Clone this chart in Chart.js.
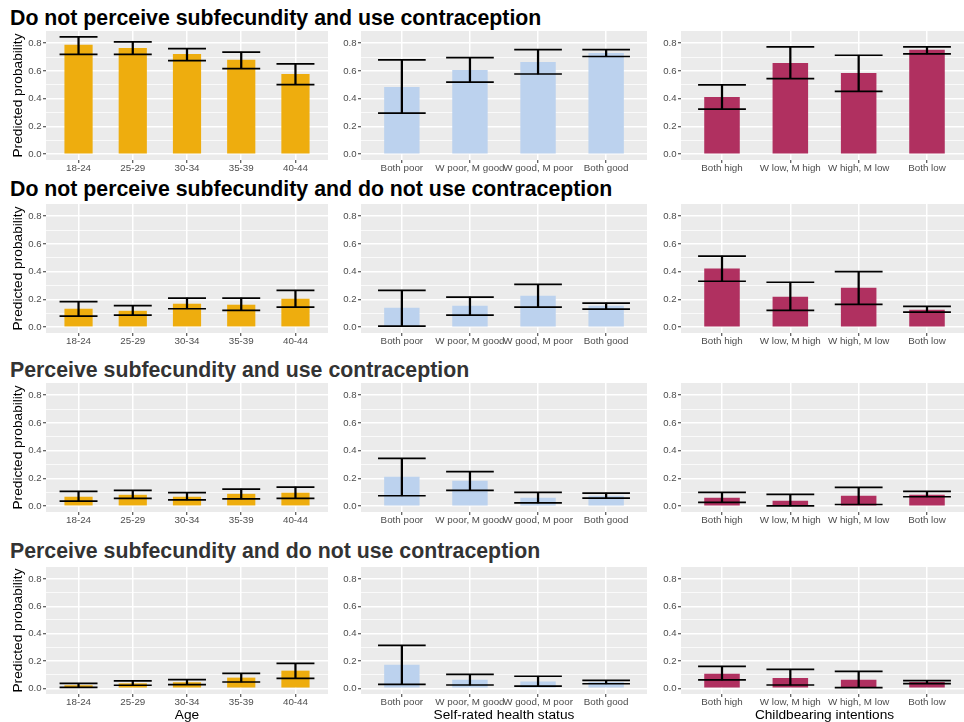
<!DOCTYPE html>
<html>
<head>
<meta charset="utf-8">
<script src="https://cdn.jsdelivr.net/npm/chart.js@4.4.0/dist/chart.umd.min.js"></script>
<style>
  html, body { margin: 0; padding: 0; background: #ffffff; overflow: hidden; }
  #fig { position: relative; width: 964px; height: 722px; overflow: hidden; }
  #fig canvas { position: absolute; }
  .rowtitle {
    position: absolute; left: 10px; white-space: nowrap;
    font: bold 21.3px 'Liberation Sans', Arial, sans-serif; line-height: 24px;
  }
</style>
</head>
<body>
<div id="fig"></div>
<script>
// ---- Categories and labels ----
const ageLabels = ['18-24', '25-29', '30-34', '35-39', '40-44'];
const healthLabels = ['Both poor', 'W poor, M good', 'W good, M poor', 'Both good'];
const intentLabels = ['Both high', 'W low, M high', 'W high, M low', 'Both low'];
const outcomeTitles = [
  'Do not perceive subfecundity and use contraception',
  'Do not perceive subfecundity and do not use contraception',
  'Perceive subfecundity and use contraception',
  'Perceive subfecundity and do not use contraception'
];
const xTitles = ['Age', 'Self-rated health status', 'Childbearing intentions'];
const probTicks = [0, 0.1, 0.2, 0.3, 0.4, 0.5, 0.6, 0.7, 0.8];

// ---- Predicted probabilities (one row per outcome) with lower / upper bounds ----
const ageEst = [
  [0.788, 0.766, 0.723, 0.680, 0.578],
  [0.133, 0.118, 0.169, 0.162, 0.205],
  [0.068, 0.082, 0.068, 0.089, 0.097],
  [0.022, 0.036, 0.044, 0.078, 0.129]
];
const ageLo = [
  [0.720, 0.720, 0.675, 0.617, 0.501],
  [0.080, 0.087, 0.133, 0.121, 0.145],
  [0.036, 0.056, 0.046, 0.053, 0.056],
  [0.007, 0.022, 0.027, 0.046, 0.073]
];
const ageHi = [
  [0.846, 0.810, 0.761, 0.735, 0.651],
  [0.184, 0.155, 0.210, 0.210, 0.266],
  [0.106, 0.114, 0.097, 0.123, 0.138],
  [0.036, 0.054, 0.063, 0.109, 0.182]
];

const healthEst = [
  [0.484, 0.607, 0.665, 0.730],
  [0.140, 0.155, 0.227, 0.155],
  [0.213, 0.184, 0.060, 0.075],
  [0.173, 0.063, 0.049, 0.045]
];
const healthLo = [
  [0.296, 0.520, 0.578, 0.704],
  [0.007, 0.087, 0.145, 0.130],
  [0.075, 0.114, 0.024, 0.058],
  [0.029, 0.024, 0.015, 0.033]
];
const healthHi = [
  [0.680, 0.696, 0.754, 0.754],
  [0.266, 0.217, 0.309, 0.174],
  [0.345, 0.249, 0.099, 0.094],
  [0.314, 0.102, 0.088, 0.058]
];

const intentEst = [
  [0.412, 0.658, 0.586, 0.752],
  [0.423, 0.220, 0.285, 0.126],
  [0.060, 0.039, 0.075, 0.082],
  [0.107, 0.075, 0.063, 0.046]
];
const intentLo = [
  [0.325, 0.545, 0.453, 0.723],
  [0.331, 0.121, 0.164, 0.109],
  [0.027, 0.002, 0.012, 0.068],
  [0.061, 0.024, 0.005, 0.034]
];
const intentHi = [
  [0.499, 0.773, 0.713, 0.773],
  [0.512, 0.324, 0.401, 0.150],
  [0.099, 0.085, 0.135, 0.106],
  [0.161, 0.139, 0.124, 0.056]
];

// ---- Layout / style ----
const FONT = "'Liberation Sans', Arial, sans-serif";
const panelLeft = [46, 361, 681];
const panelRight = [328, 647, 968];
const panelTop = [31, 204, 383, 567];
const panelHeight = [129, 129, 129, 127];
const titleTop = [6, 177, 357.6, 538.6];
const titleColor = ['#000000', '#000000', '#333333', '#333333'];
const TOP_PAD = 10;

const columns = [
  { labels: ageLabels, est: ageEst, lo: ageLo, hi: ageHi, color: '#EEAD0E' },
  { labels: healthLabels, est: healthEst, lo: healthLo, hi: healthHi, color: '#BCD2EE' },
  { labels: intentLabels, est: intentEst, lo: intentLo, hi: intentHi, color: '#B03060' }
];

const fig = document.getElementById('fig');

// grey panel background behind grid and bars
const panelBg = {
  id: 'panelBg',
  beforeDraw(chart) {
    const { ctx, chartArea: a } = chart;
    ctx.save();
    ctx.fillStyle = '#EBEBEB';
    ctx.fillRect(a.left, a.top, a.width, a.height);
    ctx.restore();
  }
};

outcomeTitles.forEach((t, r) => {
  const d = document.createElement('div');
  d.className = 'rowtitle';
  d.style.top = titleTop[r] + 'px';
  d.style.color = titleColor[r];
  d.textContent = t;
  fig.appendChild(d);
});

for (let r = 0; r < 4; r++) {
  for (let c = 0; c < 3; c++) {
    const col = columns[c];
    const n = col.labels.length;
    const yW = c === 0 ? panelLeft[0] : 40;
    const xH = r === 3 ? 722 - (panelTop[3] + panelHeight[3]) : 18;
    const pw = panelRight[c] - panelLeft[c];
    const w = yW + pw;
    const h = TOP_PAD + panelHeight[r] + xH;

    const cv = document.createElement('canvas');
    cv.width = w; cv.height = h;
    cv.style.width = w + 'px'; cv.style.height = h + 'px';
    cv.style.left = (panelLeft[c] - yW) + 'px';
    cv.style.top = (panelTop[r] - TOP_PAD) + 'px';
    fig.appendChild(cv);

    const spacing = pw / (n - 1 + 1.2);
    const capRadius = spacing * 0.35;
    const est = col.est[r], lo = col.lo[r], hi = col.hi[r];

    new Chart(cv, {
      type: 'bar',
      data: {
        datasets: [
          {
            // error-bar caps at the lower and upper bounds
            type: 'scatter',
            data: hi.map((v, i) => ({ x: i, y: v })).concat(lo.map((v, i) => ({ x: i, y: v }))),
            pointStyle: 'line',
            pointRadius: capRadius,
            pointHoverRadius: capRadius,
            pointBorderWidth: 1.7,
            pointBorderColor: '#000000',
            borderColor: '#000000',
            showLine: false,
            clip: false,
            order: 0
          },
          {
            // error-bar whiskers from lower to upper bound
            type: 'bar',
            data: lo.map((v, i) => ({ x: i, y: [v, hi[i]] })),
            backgroundColor: '#000000',
            barThickness: 1.6,
            grouped: false,
            order: 1
          },
          {
            // predicted probability bars
            type: 'bar',
            data: est.map((v, i) => ({ x: i, y: v })),
            backgroundColor: col.color,
            barPercentage: 0.52,
            categoryPercentage: 1,
            grouped: false,
            order: 2
          }
        ]
      },
      options: {
        responsive: false,
        animation: false,
        devicePixelRatio: 1,
        events: [],
        layout: { autoPadding: false, padding: { top: TOP_PAD, left: 0, right: 0, bottom: 0 } },
        plugins: { legend: { display: false }, tooltip: { enabled: false } },
        scales: {
          x: {
            type: 'linear',
            min: -0.6,
            max: n - 1 + 0.6,
            offset: false,
            afterBuildTicks: (axis) => { axis.ticks = col.labels.map((_, i) => ({ value: i })); },
            afterFit: (s) => { s.height = xH; },
            ticks: {
              callback: (v) => col.labels[v],
              color: '#4D4D4D',
              font: { family: FONT, size: 9.8, lineHeight: 1 },
              padding: 0.5,
              maxRotation: 0,
              autoSkip: false
            },
            grid: { offset: false, color: '#FFFFFF', lineWidth: 1.5, tickColor: '#333333', tickLength: 3, tickWidth: 1 },
            border: { display: false },
            title: {
              display: r === 3,
              text: xTitles[c],
              color: '#000000',
              font: { family: FONT, size: 13.7, lineHeight: 1 },
              padding: { top: 0, bottom: 0 }
            }
          },
          y: {
            type: 'linear',
            min: -0.042,
            max: 0.888,
            afterBuildTicks: (axis) => { axis.ticks = probTicks.map(v => ({ value: v })); },
            afterFit: (s) => { s.width = yW; },
            ticks: {
              callback: (v, i) => (i % 2 === 0 ? Number(v).toFixed(1) : ''),
              color: '#4D4D4D',
              font: { family: FONT, size: 9.6 },
              padding: 1.5
            },
            grid: {
              color: '#FFFFFF',
              lineWidth: (ctx) => (ctx.index % 2 === 0 ? 1.5 : 0.75),
              tickColor: (ctx) => (ctx.index % 2 === 0 ? '#333333' : 'rgba(0,0,0,0)'),
              tickLength: 3,
              tickWidth: 1
            },
            border: { display: false },
            title: {
              display: c === 0,
              text: 'Predicted probability',
              color: '#000000',
              font: { family: FONT, size: 13.7, lineHeight: 1 },
              padding: { top: 11.5, bottom: 0 }
            }
          }
        }
      },
      plugins: [panelBg]
    });
  }
}
</script>
</body>
</html>
